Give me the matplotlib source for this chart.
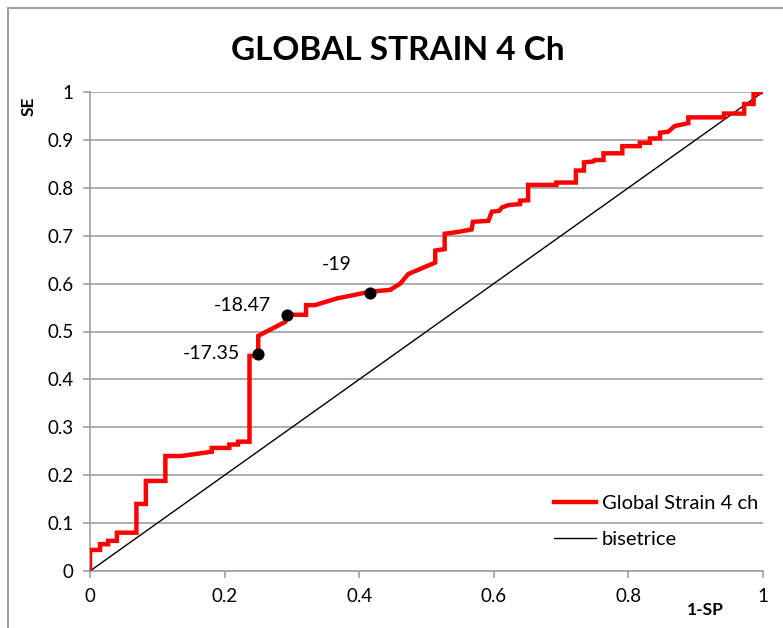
import matplotlib
matplotlib.use("Agg")
import matplotlib.pyplot as plt
from matplotlib.patches import Rectangle

# ROC curve data (1-SP, SE)
roc_x = [0, 0, 0.015, 0.015, 0.027, 0.027, 0.040, 0.040, 0.069, 0.069, 0.083, 0.083,
         0.112, 0.112, 0.135, 0.181, 0.181, 0.207, 0.207, 0.220, 0.220, 0.237, 0.237,
         0.250, 0.250, 0.290, 0.292, 0.321, 0.321, 0.334, 0.367, 0.416, 0.446, 0.461,
         0.473, 0.513, 0.513, 0.527, 0.527, 0.547, 0.567, 0.569, 0.592, 0.597, 0.608,
         0.612, 0.622, 0.639, 0.639, 0.651, 0.651, 0.693, 0.693, 0.722, 0.722, 0.734,
         0.734, 0.748, 0.750, 0.763, 0.763, 0.791, 0.791, 0.817, 0.817, 0.832, 0.832,
         0.847, 0.847, 0.859, 0.869, 0.889, 0.889, 0.942, 0.942, 0.972, 0.972, 0.986,
         0.986, 1.0]
roc_y = [0, 0.044, 0.044, 0.056, 0.056, 0.063, 0.063, 0.080, 0.080, 0.140, 0.140, 0.188,
         0.188, 0.240, 0.240, 0.249, 0.257, 0.257, 0.264, 0.264, 0.270, 0.270, 0.449,
         0.449, 0.491, 0.520, 0.535, 0.535, 0.555, 0.555, 0.569, 0.583, 0.587, 0.600,
         0.620, 0.644, 0.669, 0.672, 0.704, 0.708, 0.713, 0.729, 0.731, 0.750, 0.752,
         0.759, 0.764, 0.766, 0.773, 0.774, 0.806, 0.806, 0.811, 0.811, 0.836, 0.836,
         0.853, 0.855, 0.858, 0.858, 0.872, 0.872, 0.887, 0.887, 0.894, 0.894, 0.903,
         0.903, 0.915, 0.917, 0.929, 0.935, 0.947, 0.947, 0.955, 0.955, 0.975, 0.975,
         0.996, 1.0]

bis_x = [0, 1]
bis_y = [0, 1]

cut_x = [0.250, 0.292, 0.416]
cut_y = [0.452, 0.535, 0.581]
cut_labels = ["-17.35", "-18.47", "-19"]

x_ticks = [0, 0.2, 0.4, 0.6, 0.8, 1]
x_tick_labels = ["0", "0.2", "0.4", "0.6", "0.8", "1"]
y_ticks = [0, 0.1, 0.2, 0.3, 0.4, 0.5, 0.6, 0.7, 0.8, 0.9, 1]
y_tick_labels = ["0", "0.1", "0.2", "0.3", "0.4", "0.5", "0.6", "0.7", "0.8", "0.9", "1"]

plt.rcParams['font.family'] = ['Lato', 'DejaVu Sans']

W, H = 783, 628
fig = plt.figure(figsize=(W / 100, H / 100), dpi=100)
fig.patches.append(Rectangle((8 / W, -0.1), 1.2, 1 - 8 / H + 0.1, transform=fig.transFigure,
                             fill=False, edgecolor='#a0a0a0', linewidth=1.5))

ax = fig.add_axes([90 / W, 1 - 571 / H, (763 - 90) / W, (571 - 92) / H])
ax.set_xlim(0, 1)
ax.set_ylim(0, 1)

ax.plot(roc_x, roc_y, color='#ff0000', linewidth=3.2, solid_joinstyle='miter',
        label='Global Strain 4 ch', zorder=3)
ax.plot(bis_x, bis_y, color='black', linewidth=1.0, label='bisetrice', zorder=2)
ax.scatter(cut_x, cut_y, s=60, color='black', zorder=4)

offsets = [(-34, 1), (-32, 7), (-24, 20)]
for (x, y, lab, off) in zip(cut_x, cut_y, cut_labels, offsets):
    ax.annotate(lab, (x, y), xytext=off, textcoords='offset points', ha='center', va='center',
                fontsize=14, color='black')

ax.set_xticks(x_ticks)
ax.set_xticklabels(x_tick_labels, fontsize=13.5)
ax.set_yticks(y_ticks)
ax.set_yticklabels(y_tick_labels, fontsize=13.5)
ax.yaxis.grid(True, color='#a0a0a0', linewidth=1.2)
ax.set_axisbelow(True)
for s in ['top', 'right']:
    ax.spines[s].set_visible(False)
for s in ['left', 'bottom']:
    ax.spines[s].set_color('#a0a0a0')
    ax.spines[s].set_linewidth(1.2)
ax.tick_params(axis='both', colors='#a0a0a0', labelcolor='black', length=5, width=1.2, pad=7)

fig.text(398 / W, 1 - 50 / H, 'GLOBAL STRAIN 4 Ch', ha='center', va='center',
         fontsize=24, fontweight='bold')
fig.text(29 / W, 1 - 106 / H, 'SE', ha='center', va='center', rotation=90,
         fontsize=12.5, fontweight='bold')
fig.text(705 / W, 1 - 610 / H, '1-SP', ha='center', va='center',
         fontsize=12.5, fontweight='bold')

leg = ax.legend(loc='lower right', bbox_to_anchor=(1.02, 0.01), frameon=False, fontsize=14.5,
                handlelength=2.1, labelspacing=0.95, handletextpad=0.3)

fig.savefig('out.png', dpi=100)
